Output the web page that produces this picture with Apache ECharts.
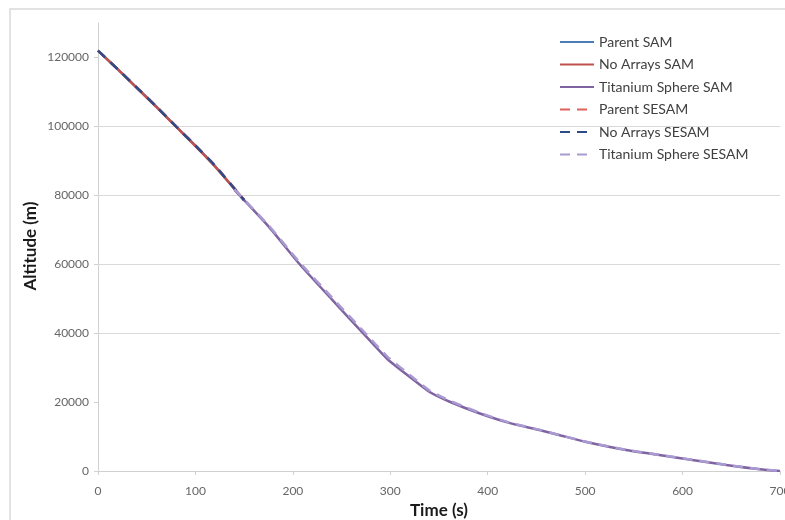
<!DOCTYPE html>
<html>
<head>
<meta charset="utf-8">
<script src="https://cdn.jsdelivr.net/npm/echarts@6/dist/echarts.min.js"></script>
<style>html,body{margin:0;padding:0;background:#fff}#c{width:785px;height:520px}</style>
</head>
<body>
<div id="c"></div>
<script>
// Breakup-phase trajectories (parent / no-arrays), time in s
var timeParent = [0, 20, 40, 60, 80, 100, 120, 150];
var altParentSAM = [122000, 116700, 111200, 105700, 100000, 94400, 88500, 78500];
var altNoArraysSAM = [122000, 116600, 111100, 105600, 99900, 94300, 88400, 78600];
var altParentSESAM = [122000, 116700, 111300, 105800, 100100, 94500, 88700, 78700];
var altNoArraysSESAM = [122000, 116650, 111200, 105700, 100000, 94400, 88600, 78600];
// Titanium sphere trajectories
var timeTi = [140, 175, 207, 240, 272, 297, 320, 340, 361, 392, 423, 453, 475, 500, 542, 576, 610, 645, 679, 700];
var altTiSAM = [81600, 71000, 60000, 49800, 40000, 32500, 27300, 23000, 20100, 16700, 13900, 11900, 10300, 8500, 6100, 4650, 3200, 1750, 500, 0];
var altTiSESAM = [81700, 71300, 60500, 50400, 40700, 33200, 27900, 23400, 20400, 16900, 14000, 12000, 10350, 8550, 6150, 4700, 3250, 1800, 550, 0];

var seriesNames = ['Parent SAM', 'No Arrays SAM', 'Titanium Sphere SAM', 'Parent SESAM', 'No Arrays SESAM', 'Titanium Sphere SESAM'];
var yTicks = [0, 20000, 40000, 60000, 80000, 100000, 120000];
var gridValues = [40000, 60000, 80000, 100000];

function zip(t, a) { return t.map(function (v, i) { return [v, a[i]]; }); }

var FONT = 'Lato';
var colors = ['#4a7ebb', '#c0504d', '#8064a2', '#e0605a', '#2b4c88', '#a99bd2'];

function mk(name, data, color, dashed) {
  return {
    name: name, type: 'line', data: data, symbol: 'none', showSymbol: false,
    smooth: 0.2,
    lineStyle: { color: color, width: 2.5, type: dashed ? [10, 7] : 'solid' },
    itemStyle: { color: color },
    emphasis: { disabled: true }
  };
}

var series = [
  mk(seriesNames[0], zip(timeParent, altParentSAM), colors[0], false),
  mk(seriesNames[1], zip(timeParent, altNoArraysSAM), colors[1], false),
  mk(seriesNames[2], zip(timeTi, altTiSAM), colors[2], false),
  mk(seriesNames[3], zip(timeParent, altParentSESAM), colors[3], true),
  mk(seriesNames[4], zip(timeParent, altNoArraysSESAM), colors[4], true),
  mk(seriesNames[5], zip(timeTi, altTiSESAM), colors[5], true)
];
series[0].markLine = {
  silent: true, symbol: ['none', 'none'], animation: false, z: 1,
  label: { show: false },
  lineStyle: { color: '#d9d9d9', width: 1, type: 'solid' },
  emphasis: { disabled: true },
  data: gridValues.map(function (v) { return { yAxis: v }; })
};

var chart = echarts.init(document.getElementById('c'), null, { renderer: 'canvas' });
chart.setOption({
  animation: false,
  backgroundColor: '#fff',
  textStyle: { fontFamily: FONT },
  grid: { left: 98, right: 5, top: 23, bottom: 49, containLabel: false, outerBoundsMode: 'none' },
  legend: {
    data: seriesNames, orient: 'vertical', left: 554, top: 30,
    itemWidth: 34, itemHeight: 14, itemGap: 8.5,
    itemStyle: { opacity: 0 },
    textStyle: { color: '#404040', fontSize: 14, fontFamily: FONT }
  },
  xAxis: {
    type: 'value', min: 0, max: 700, interval: 100,
    name: 'Time (s)', nameLocation: 'middle', nameGap: 25,
    nameTextStyle: { color: '#1a1a1a', fontWeight: 'bold', fontSize: 17, fontFamily: FONT },
    axisLine: { show: true, lineStyle: { color: '#d0d0d0', width: 1 } },
    axisTick: { show: true, inside: false, length: 4, lineStyle: { color: '#d0d0d0' } },
    axisLabel: { color: '#666', fontSize: 12, margin: 14, fontFamily: FONT, formatter: function (v) { return String(v); } },
    splitLine: { show: false }
  },
  yAxis: {
    type: 'value', min: 0, max: 130000,
    axisLine: { show: true, lineStyle: { color: '#d0d0d0', width: 1 } },
    axisTick: { show: true, inside: false, length: 4, lineStyle: { color: '#d0d0d0' }, customValues: yTicks },
    axisLabel: { color: '#666', fontSize: 12, margin: 9, fontFamily: FONT, customValues: yTicks, formatter: function (v) { return String(v); } },
    splitLine: { show: false }
  },
  graphic: [
    { type: 'rect', silent: true, z: -10, shape: { x: 10, y: 9, width: 800, height: 600 },
      style: { fill: 'none', stroke: '#d9d9d9', lineWidth: 1.5 } },
    { type: 'text', silent: true, x: 31, y: 246, rotation: Math.PI / 2,
      style: { text: 'Altitude (m)', fill: '#1a1a1a', font: 'bold 17px ' + FONT, align: 'center', verticalAlign: 'middle' } }
  ],
  series: series
});
</script>
</body>
</html>
